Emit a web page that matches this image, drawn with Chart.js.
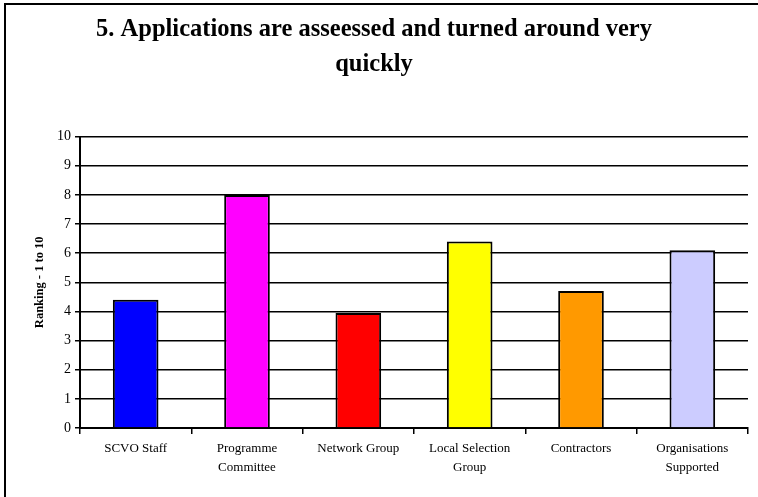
<!DOCTYPE html>
<html>
<head>
<meta charset="utf-8">
<script src="https://cdn.jsdelivr.net/npm/chart.js@4/dist/chart.umd.min.js"></script>
<style>
  html, body { margin: 0; padding: 0; background: #fff; }
  #wrap { position: relative; width: 758px; height: 497px; }
  #frame {
    position: absolute; left: 4px; top: 3px; right: 0; bottom: 0;
    border-left: 2px solid #000; border-top: 2px solid #000;
    pointer-events: none;
  }
  canvas { position: absolute; left: 0; top: 0; }
</style>
</head>
<body>
<div id="wrap">
  <canvas id="chart" width="758" height="497"></canvas>
  <div id="frame"></div>
</div>
<script>
'use strict';

const titleLines = ['5. Applications are asseessed and turned around very', 'quickly'];
const groups = [
  'SCVO Staff',
  ['Programme', 'Committee'],
  'Network Group',
  ['Local Selection', 'Group'],
  'Contractors',
  ['Organisations', 'Supported']
];
const rankings = [4.4, 8.0, 3.95, 6.4, 4.7, 6.1];
const barColors = ['#0000ff', '#ff00ff', '#ff0000', '#ffff00', '#ff9900', '#ccccff'];
const yTicks = [0, 1, 2, 3, 4, 5, 6, 7, 8, 9, 10];

const serif = '"Liberation Serif", "Times New Roman", serif';

new Chart(document.getElementById('chart'), {
  type: 'bar',
  data: {
    labels: groups,
    datasets: [{
      data: rankings,
      backgroundColor: barColors,
      borderColor: '#000',
      borderWidth: 2,
      barPercentage: 0.41,
      categoryPercentage: 1
    }]
  },
  options: {
    responsive: false,
    animation: false,
    layout: { padding: { top: 4, right: 10, left: 0, bottom: 0 } },
    plugins: {
      legend: { display: false },
      tooltip: { enabled: false },
      title: {
        display: true,
        text: titleLines,
        color: '#000',
        font: { family: serif, size: 24.5, weight: 'bold', lineHeight: 1.4 },
        padding: { top: 9, bottom: 55 }
      }
    },
    scales: {
      x: {
        grid: { drawOnChartArea: false, drawTicks: true, tickLength: 6, color: '#000', lineWidth: 1.5 },
        border: { color: '#000', width: 2 },
        ticks: { color: '#000', font: { family: serif, size: 13, lineHeight: 1.45 }, maxRotation: 0, padding: 5 },
        afterFit: scale => { scale.height = 69; }
      },
      y: {
        min: 0,
        max: 10,
        afterBuildTicks: scale => { scale.ticks = yTicks.map(v => ({ value: v })); },
        grid: { color: '#000', lineWidth: 1.5, tickLength: 5 },
        border: { color: '#000', width: 2 },
        ticks: { color: '#000', font: { family: serif, size: 14 }, padding: 4 },
        title: {
          display: true,
          text: 'Ranking - 1 to 10',
          color: '#000',
          font: { family: serif, size: 12.5, weight: 'bold' },
          padding: { top: 32, bottom: 0 }
        },
        afterFit: scale => { scale.width = 80; }
      }
    }
  }
});
</script>
</body>
</html>
